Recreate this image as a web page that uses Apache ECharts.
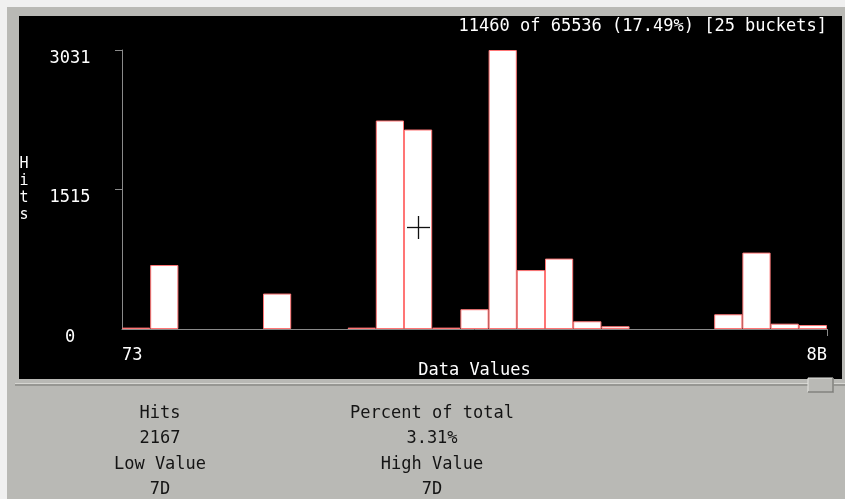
<!DOCTYPE html>
<html>
<head>
<meta charset="utf-8">
<script src="https://cdn.jsdelivr.net/npm/echarts@6/dist/echarts.min.js"></script>
<style>
html,body{margin:0;padding:0;background:#f0f0f0;}
#chart{width:845px;height:499px;}
</style>
</head>
<body>
<div id="chart"></div>
<script>
// ---- data ----
const buckets = ['73','74','75','76','77','78','79','7A','7B','7C','7D','7E','7F','80','81','82','83','84','85','86','87','88','89','8A','8B'];
const hits = [15,695,0,0,0,385,0,0,15,2265,2167,15,215,3031,640,765,84,30,0,0,0,160,830,58,43];
const yTickValues = [0,1515,3031];
const xTickLabels = ['73','8B'];
const titleText = '11460 of 65536 (17.49%) [25 buckets]';
const infoLeft = ['Hits','2167','Low Value','7D'];
const infoRight = ['Percent of total','3.31%','High Value','7D'];

const FONT = 'DejaVu Sans Mono';
const FS = 17;

const chart = echarts.init(document.getElementById('chart'));

const barData = hits.map(v => v === 0 ? {value: 0, itemStyle: {borderWidth: 0}} : v);

const infoGraphics = [];
const rowsY = [414, 439, 465, 490];
infoLeft.forEach((t, i) => infoGraphics.push({
  type: 'text', x: 160, y: rowsY[i], z: 10,
  style: {text: t, font: FS + 'px "' + FONT + '"', fill: '#141414', align: 'center', verticalAlign: 'middle'}
}));
infoRight.forEach((t, i) => infoGraphics.push({
  type: 'text', x: 432, y: rowsY[i], z: 10,
  style: {text: t, font: FS + 'px "' + FONT + '"', fill: '#141414', align: 'center', verticalAlign: 'middle'}
}));

chart.setOption({
  animation: false,
  backgroundColor: '#f0f0f0',
  textStyle: {fontFamily: FONT},
  title: {
    text: titleText, right: 18, top: 18, padding: 0,
    textStyle: {color: '#ffffff', fontFamily: FONT, fontSize: FS, fontWeight: 'normal'}
  },
  grid: {left: 122, right: 18, top: 50, bottom: 170},
  xAxis: [{
    type: 'category', data: buckets,
    axisLine: {lineStyle: {color: '#8a8a8a', width: 1}},
    axisTick: {show: false}, axisLabel: {show: false}, splitLine: {show: false}
  }, {
    type: 'value', position: 'bottom', min: 0, max: buckets.length,
    axisLine: {show: false},
    axisTick: {show: true, customValues: [buckets.length], length: 7, lineStyle: {color: '#8a8a8a'}},
    axisLabel: {
      customValues: [0, buckets.length],
      formatter: v => v === 0 ? xTickLabels[0] : xTickLabels[1],
      alignMinLabel: 'left', alignMaxLabel: 'right',
      color: '#ffffff', fontFamily: FONT, fontSize: FS, margin: 18
    },
    splitLine: {show: false},
    name: 'Data Values', nameLocation: 'middle', nameGap: 33, nameMoveOverlap: false,
    nameTextStyle: {color: '#ffffff', fontFamily: FONT, fontSize: FS}
  }],
  yAxis: {
    type: 'value', min: 0, max: 3031,
    axisLine: {show: true, lineStyle: {color: '#8a8a8a', width: 1}},
    axisTick: {show: true, customValues: [1515, 3031], length: 7, lineStyle: {color: '#8a8a8a'}},
    axisLabel: {
      customValues: yTickValues, formatter: v => String(v),
      color: '#ffffff', fontFamily: FONT, fontSize: FS,
      align: 'center', verticalAlign: 'top', margin: 52
    },
    splitLine: {show: false},
    name: 'H\ni\nt\ns', nameLocation: 'middle', nameGap: 98, nameRotate: 0, nameMoveOverlap: false,
    nameTextStyle: {color: '#ffffff', fontFamily: FONT, fontSize: 15, lineHeight: 17, align: 'center', verticalAlign: 'middle', padding: [6, 0, 0, 0]}
  },
  series: [{
    type: 'bar', data: barData, barCategoryGap: 0, z: 3,
    itemStyle: {color: '#ffffff', borderColor: '#ff7575', borderWidth: 1}
  }],
  graphic: [
    {type: 'rect', shape: {x: 7, y: 7, width: 838, height: 492}, style: {fill: '#b9b9b5'}, z: -10, silent: true},
    {type: 'rect', shape: {x: 19, y: 16, width: 823, height: 363}, style: {fill: '#000000'}, z: -9, silent: true},
    {type: 'line', shape: {x1: 15, y1: 383.5, x2: 845, y2: 383.5}, style: {stroke: '#d6d6d2', lineWidth: 1}, z: -8, silent: true},
    {type: 'line', shape: {x1: 15, y1: 385, x2: 845, y2: 385}, style: {stroke: '#8c8c88', lineWidth: 1.5}, z: -8, silent: true},
    {type: 'rect', shape: {x: 808, y: 378, width: 25, height: 14}, style: {fill: '#b9b9b5', stroke: '#e4e4e0', lineWidth: 1}, z: 20, silent: true},
    {type: 'polyline', shape: {points: [[833, 378], [833, 392], [808, 392]]}, style: {stroke: '#7c7c78', lineWidth: 1.5, fill: null}, z: 21, silent: true},
    {type: 'line', shape: {x1: 407, y1: 227.5, x2: 430, y2: 227.5}, style: {stroke: '#111111', lineWidth: 1.3}, z: 30, silent: true},
    {type: 'line', shape: {x1: 418.5, y1: 216, x2: 418.5, y2: 239}, style: {stroke: '#111111', lineWidth: 1.3}, z: 30, silent: true}
  ].concat(infoGraphics)
});
</script>
</body>
</html>
